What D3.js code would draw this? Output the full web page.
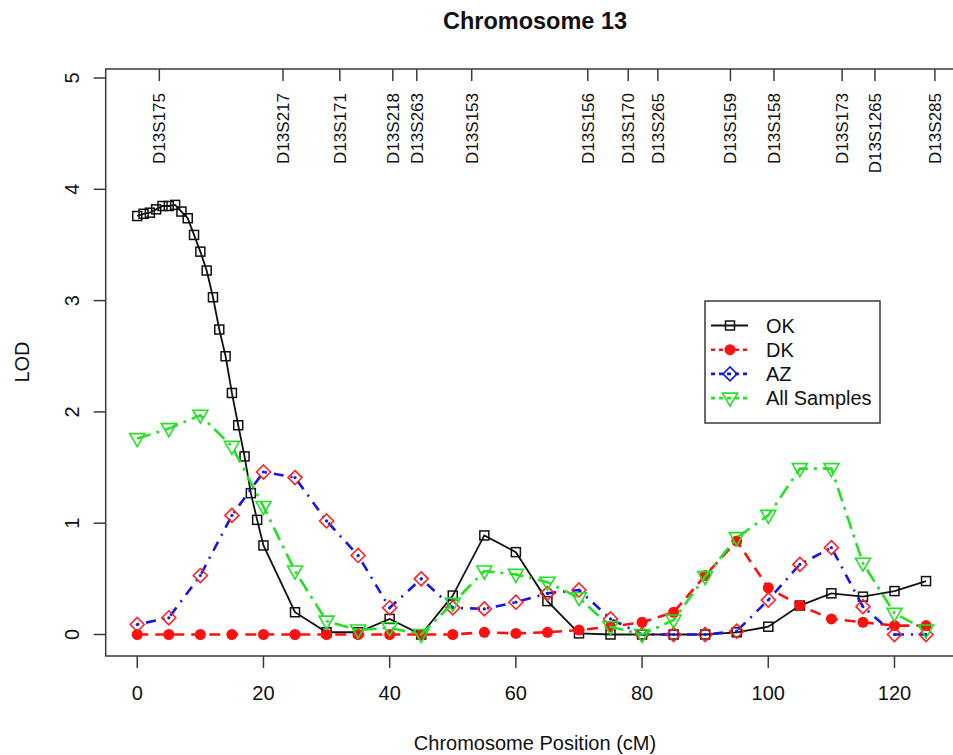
<!DOCTYPE html>
<html>
<head>
<meta charset="utf-8">
<script src="https://cdn.jsdelivr.net/npm/d3@7"></script>
<style>
  body { margin: 0; background: #fff; }
  svg { display: block; font-family: "Liberation Sans", Arial, sans-serif; }
</style>
</head>
<body>
<div id="chart"></div>
<script>
var okPos = [0, 1, 2, 3, 4, 5, 6, 7, 8, 9, 10, 11, 12, 13, 14, 15, 16, 17, 18, 19, 20,
    25, 30, 35, 40, 45, 50, 55, 60, 65, 70, 75, 80, 85, 90, 95, 100, 105, 110, 115, 120, 125];
var okLod = [3.76, 3.78, 3.79, 3.82, 3.85, 3.85, 3.86, 3.80, 3.74, 3.59, 3.44, 3.27, 3.03, 2.74, 2.50, 2.17, 1.88, 1.60, 1.27, 1.03, 0.80,
    0.20, 0.02, 0.02, 0.14, 0.00, 0.35, 0.89, 0.74, 0.30, 0.01, 0.00, 0.00, 0.00, 0.00, 0.02, 0.07, 0.26, 0.37, 0.34, 0.39, 0.48];

var pos = [0, 5, 10, 15, 20, 25, 30, 35, 40, 45, 50, 55, 60, 65, 70, 75, 80, 85, 90, 95, 100, 105, 110, 115, 120, 125];
var dkLod = [0, 0, 0, 0, 0, 0, 0, 0, 0, 0, 0.00, 0.02, 0.01, 0.02, 0.04, 0.07, 0.11, 0.20, 0.53, 0.84, 0.42, 0.26, 0.14, 0.11, 0.08, 0.08];
var azLod = [0.09, 0.15, 0.53, 1.07, 1.46, 1.41, 1.02, 0.71, 0.24, 0.50, 0.24, 0.23, 0.29, 0.37, 0.40, 0.14, 0.00, 0.00, 0.00, 0.03, 0.31, 0.63, 0.78, 0.25, 0.00, 0.00];
var allLod = [1.76, 1.85, 1.97, 1.69, 1.15, 0.57, 0.12, 0.04, 0.06, 0.00, 0.28, 0.57, 0.54, 0.47, 0.33, 0.07, 0.00, 0.13, 0.52, 0.87, 1.07, 1.49, 1.49, 0.64, 0.19, 0.04];

var markerNames = ["D13S175", "D13S217", "D13S171", "D13S218", "D13S263", "D13S153", "D13S156",
    "D13S170", "D13S265", "D13S159", "D13S158", "D13S173", "D13S1265", "D13S285"];
var markerPos = [3.5, 23.1, 32.1, 40.5, 44.3, 53.0, 71.4, 77.8, 82.5, 94.0, 100.9, 111.7, 116.9, 126.4];

var xTicks = [0, 20, 40, 60, 80, 100, 120];
var yTicks = [0, 1, 2, 3, 4, 5];
var legendNames = ["OK", "DK", "AZ", "All Samples"];

var W = 953, H = 755;
var frameCol = "#3a3a3a";

var svg = d3.select("#chart").append("svg")
    .attr("width", W)
    .attr("height", H);

var x = d3.scaleLinear().domain([-5, 130]).range([105.7, 957.6]);
var y = d3.scaleLinear().domain([0, 5]).range([634.5, 78]);
var boxTop = 69, boxBottom = 656;

// frame
svg.append("rect")
    .attr("x", x(-5))
    .attr("y", boxTop)
    .attr("width", x(130) - x(-5))
    .attr("height", boxBottom - boxTop)
    .attr("fill", "none")
    .attr("stroke", frameCol)
    .attr("stroke-width", 1.5);

// x axis
var xAxis = svg.append("g");
xAxis.selectAll("line").data(xTicks).enter().append("line")
    .attr("x1", function(d) { return x(d); })
    .attr("x2", function(d) { return x(d); })
    .attr("y1", boxBottom)
    .attr("y2", boxBottom + 12)
    .attr("stroke", frameCol)
    .attr("stroke-width", 1.5);
xAxis.selectAll("text").data(xTicks).enter().append("text")
    .attr("x", function(d) { return x(d); })
    .attr("y", 700)
    .attr("text-anchor", "middle")
    .attr("font-size", 20)
    .attr("fill", "#111")
    .text(function(d) { return d; });

// y axis
var yAxis = svg.append("g");
yAxis.selectAll("line").data(yTicks).enter().append("line")
    .attr("x1", x(-5))
    .attr("x2", x(-5) - 12)
    .attr("y1", function(d) { return y(d); })
    .attr("y2", function(d) { return y(d); })
    .attr("stroke", frameCol)
    .attr("stroke-width", 1.5);
yAxis.selectAll("text").data(yTicks).enter().append("text")
    .attr("transform", function(d) { return "translate(79," + y(d) + ") rotate(-90)"; })
    .attr("text-anchor", "middle")
    .attr("font-size", 20)
    .attr("fill", "#111")
    .text(function(d) { return d; });

// titles
svg.append("text")
    .attr("x", 535)
    .attr("y", 29)
    .attr("text-anchor", "middle")
    .attr("font-size", 23.5)
    .attr("font-weight", "bold")
    .attr("fill", "#111")
    .text("Chromosome 13");
svg.append("text")
    .attr("x", 535)
    .attr("y", 750)
    .attr("text-anchor", "middle")
    .attr("font-size", 20)
    .attr("fill", "#111")
    .text("Chromosome Position (cM)");
svg.append("text")
    .attr("transform", "translate(29,362) rotate(-90)")
    .attr("text-anchor", "middle")
    .attr("font-size", 20)
    .attr("fill", "#111")
    .text("LOD");

// marker ticks along the top
var mk = svg.append("g");
mk.selectAll("line").data(markerPos).enter().append("line")
    .attr("x1", function(d) { return x(d); })
    .attr("x2", function(d) { return x(d); })
    .attr("y1", boxTop)
    .attr("y2", boxTop + 12)
    .attr("stroke", frameCol)
    .attr("stroke-width", 1.5);
mk.selectAll("text").data(markerNames).enter().append("text")
    .attr("transform", function(d, i) { return "translate(" + (x(markerPos[i]) + 6) + ",93) rotate(-90)"; })
    .attr("text-anchor", "end")
    .attr("font-size", 17)
    .attr("fill", "#111")
    .text(function(d) { return d; });

var series = [
    { name: "OK", xs: okPos, ys: okLod, color: "#111", dash: null, width: 1.8, sym: "square" },
    { name: "DK", xs: pos, ys: dkLod, color: "#ff1010", dash: "11,7", width: 2.6, sym: "dot" },
    { name: "AZ", xs: pos, ys: azLod, color: "#1515e8", dash: "2,7,10,7", width: 2.6, sym: "diamond" },
    { name: "All Samples", xs: pos, ys: allLod, color: "#25e025", dash: "14,6,3,6", width: 2.6, sym: "tri" }
];

function drawSymbol(g, s, cx, cy, big) {
    if (s.sym == "square") {
        g.append("rect").attr("x", cx - 4.5).attr("y", cy - 4.5).attr("width", 9).attr("height", 9)
            .attr("fill", "none").attr("stroke", s.color).attr("stroke-width", 1.5);
    } else if (s.sym == "dot") {
        g.append("circle").attr("cx", cx).attr("cy", cy).attr("r", 5.5).attr("fill", s.color);
    } else if (s.sym == "diamond") {
        var r = 7;
        g.append("path")
            .attr("d", "M" + cx + "," + (cy - r) + "L" + (cx + r) + "," + cy + "L" + cx + "," + (cy + r) + "L" + (cx - r) + "," + cy + "Z")
            .attr("fill", "none").attr("stroke", big ? s.color : "#ff2020").attr("stroke-width", 1.6);
        if (!big) g.append("circle").attr("cx", cx).attr("cy", cy).attr("r", 1.6).attr("fill", s.color);
    } else {
        g.append("path")
            .attr("d", "M" + (cx - 7.5) + "," + (cy - 5) + "L" + (cx + 7.5) + "," + (cy - 5) + "L" + cx + "," + (cy + 8) + "Z")
            .attr("fill", "none").attr("stroke", s.color).attr("stroke-width", 1.6);
    }
}

var line = d3.line()
    .x(function(d) { return x(d[0]); })
    .y(function(d) { return y(d[1]); });

series.forEach(function(s) {
    var pts = s.xs.map(function(v, i) { return [v, s.ys[i]]; });
    var g = svg.append("g");
    g.append("path")
        .datum(pts)
        .attr("d", line)
        .attr("fill", "none")
        .attr("stroke", s.color)
        .attr("stroke-width", s.width)
        .attr("stroke-dasharray", s.dash);
    pts.forEach(function(p) {
        drawSymbol(g, s, x(p[0]), y(p[1]), false);
    });
});

// legend
var lg = svg.append("g");
lg.append("rect")
    .attr("x", 705)
    .attr("y", 301)
    .attr("width", 175)
    .attr("height", 122)
    .attr("fill", "#fff")
    .attr("stroke", frameCol)
    .attr("stroke-width", 1.5);
series.forEach(function(s, i) {
    var ly = 325.5 + i * 24.2;
    lg.append("line")
        .attr("x1", 711).attr("x2", 748)
        .attr("y1", ly).attr("y2", ly)
        .attr("stroke", s.color)
        .attr("stroke-width", s.width)
        .attr("stroke-dasharray", s.dash ? "4,4" : null);
    drawSymbol(lg, s, 730, ly, true);
    lg.append("text")
        .attr("x", 766)
        .attr("y", ly + 7)
        .attr("font-size", 20)
        .attr("fill", "#111")
        .text(legendNames[i]);
});
</script>
</body>
</html>
